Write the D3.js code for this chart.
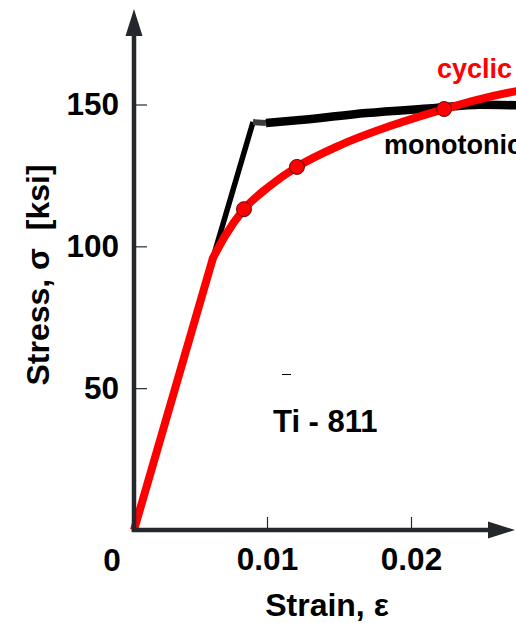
<!DOCTYPE html>
<html>
<head>
<meta charset="utf-8">
<script src="https://cdn.jsdelivr.net/npm/d3@7"></script>
<style>
  html, body { margin: 0; padding: 0; background: #fff; overflow: hidden; }
  svg { display: block; }
  text { font-family: "Liberation Sans", Arial, sans-serif; font-weight: bold; }
</style>
</head>
<body>
<svg id="chart" width="516" height="623"></svg>
<script>
// ---- data (strain, stress in ksi) ----
const cyclicStrain = [0, 0.00594, 0.00684, 0.00827, 0.0102, 0.01208, 0.0151, 0.01854, 0.0223, 0.0248, 0.0275];
const cyclicStress = [0, 95.9, 103.6, 113.1, 121.3, 128.0, 135.7, 142.4, 148.4, 151.9, 154.9];
const pointStrain = [0.00827, 0.01208, 0.0223];
const pointStress = [113.1, 128.0, 148.4];
const monoStrain = [0, 0.00594, 0.00895, 0.00992, 0.0123, 0.0169, 0.0215, 0.0248, 0.0275];
const monoStress = [0, 95.9, 143.8, 143.5, 144.5, 147.0, 148.7, 149.9, 149.7];
const yTicks = [50, 100, 150];
const xTicks = [0.01, 0.02];
const xTickLabels = ["0.01", "0.02"];

const svg = d3.select("#chart");
const axisColor = "#24272b";
const fontFam = "'Liberation Sans', Arial, sans-serif";

const x = d3.scaleLinear().domain([0, 0.01, 0.02]).range([134, 267, 411]);
const y = d3.scaleLinear().domain([0, 150]).range([530, 104.5]);

// axes ticks
const yAxis = d3.axisLeft(y).tickValues(yTicks).tickSize(-13).tickPadding(15);
const gy = svg.append("g").attr("transform", `translate(${x(0)},0)`).call(yAxis);
gy.select(".domain").remove();
gy.selectAll(".tick line").attr("stroke", axisColor).attr("stroke-width", 1.2);
gy.selectAll(".tick text").attr("font-size", 31.5).attr("fill", "#000")
  .style("font-family", fontFam).style("font-weight", "bold");

const xAxis = d3.axisBottom(x).tickValues(xTicks).tickFormat((d, i) => xTickLabels[i]).tickSize(-13).tickPadding(18);
const gx = svg.append("g").attr("transform", `translate(0,${y(0)})`).call(xAxis);
gx.select(".domain").remove();
gx.selectAll(".tick line").attr("stroke", axisColor).attr("stroke-width", 1.2);
gx.selectAll(".tick text").attr("font-size", 31.5).attr("fill", "#000")
  .style("font-family", fontFam).style("font-weight", "bold");

// origin label
svg.append("text").attr("x", x(0) - 22).attr("y", 571).attr("text-anchor", "middle")
  .attr("font-size", 31.5).attr("fill", "#000").text("0");

// data lines
const mono = monoStrain.map((s, i) => [s, monoStress[i]]);
const cyc = cyclicStrain.map((s, i) => [s, cyclicStress[i]]);
const lineLin = d3.line().x(d => x(d[0])).y(d => y(d[1]));
const lineCurve = d3.line().x(d => x(d[0])).y(d => y(d[1])).curve(d3.curveMonotoneX);

// monotonic: elastic + knee (thin), elbow piece (gray), plastic (thick)
svg.append("path").attr("d", lineLin(mono.slice(0, 3))).attr("fill", "none")
  .attr("stroke", "#000").attr("stroke-width", 5.5).attr("stroke-linejoin", "miter");
svg.append("path").attr("d", lineLin(mono.slice(2, 4))).attr("fill", "none")
  .attr("stroke", "#3a3c3e").attr("stroke-width", 6);
svg.append("path").attr("d", lineCurve(mono.slice(3))).attr("fill", "none")
  .attr("stroke", "#000").attr("stroke-width", 8.5);

// cyclic
svg.append("path").attr("d", lineLin(cyc.slice(0, 2))).attr("fill", "none")
  .attr("stroke", "#ff0000").attr("stroke-width", 8);
svg.append("path").attr("d", lineCurve(cyc.slice(1))).attr("fill", "none")
  .attr("stroke", "#ff0000").attr("stroke-width", 8).attr("stroke-linecap", "round");

svg.selectAll("circle.pt").data(pointStrain.map((s, i) => [s, pointStress[i]])).enter()
  .append("circle").attr("class", "pt")
  .attr("cx", d => x(d[0])).attr("cy", d => y(d[1])).attr("r", 7.5)
  .attr("fill", "#ff0000").attr("stroke", "#5a1010").attr("stroke-width", 1);

// axis lines with arrows
svg.append("line").attr("x1", 134).attr("y1", y(0) + 2).attr("x2", 134).attr("y2", 34)
  .attr("stroke", axisColor).attr("stroke-width", 4.5);
svg.append("path").attr("d", "M134,9 L125.5,36 L142.5,36 Z").attr("fill", axisColor);
svg.append("line").attr("x1", 131.8).attr("y1", y(0)).attr("x2", 490).attr("y2", y(0))
  .attr("stroke", axisColor).attr("stroke-width", 4.5);
svg.append("path").attr("d", "M515,530 L488,521.5 L488,538.5 Z").attr("fill", axisColor);

// labels
svg.append("text").attr("x", 327).attr("y", 616).attr("text-anchor", "middle")
  .attr("font-size", 32).attr("fill", "#000").text("Strain, ε");
svg.append("text").attr("transform", "translate(49,275) rotate(-90)").attr("text-anchor", "middle")
  .attr("font-size", 32).attr("fill", "#000").attr("xml:space", "preserve").text("Stress, σ  [ksi]");

svg.append("text").attr("x", 437).attr("y", 78).attr("font-size", 27).attr("fill", "#ff0000").text("cyclic");
svg.append("text").attr("x", 384).attr("y", 154).attr("font-size", 27).attr("fill", "#000").text("monotonic");
svg.append("text").attr("x", 273).attr("y", 432).attr("font-size", 31).attr("fill", "#000").text("Ti - 811");

// small stray dash
svg.append("line").attr("x1", 282).attr("x2", 291).attr("y1", 374.5).attr("y2", 374.5)
  .attr("stroke", "#000").attr("stroke-width", 1);
</script>
</body>
</html>
